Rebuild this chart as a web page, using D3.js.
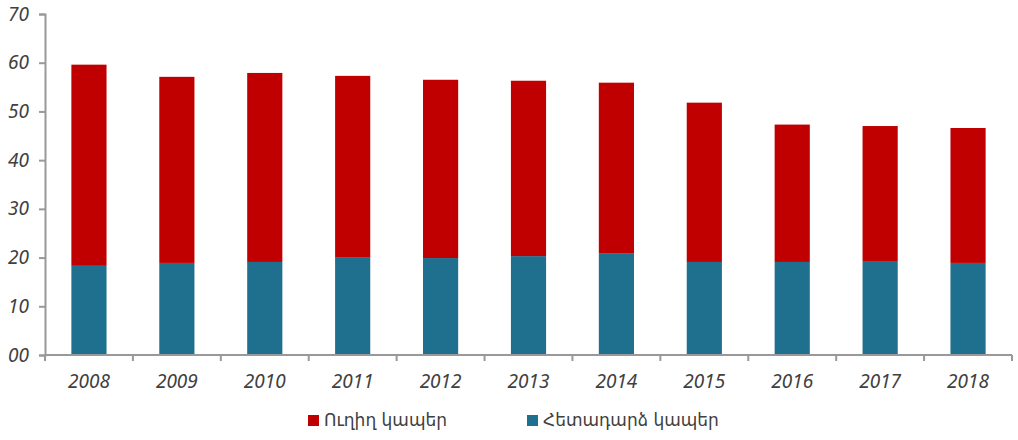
<!DOCTYPE html>
<html>
<head>
<meta charset="utf-8">
<script src="https://cdn.jsdelivr.net/npm/d3@7"></script>
<style>
  body { margin: 0; background: #fff; }
  .tick text { font-family: "Noto Sans", "DejaVu Sans", sans-serif; font-style: italic; fill: #404040; }
  .legend text { font-family: "DejaVu Sans", "Noto Sans", sans-serif; fill: #404040; }
</style>
</head>
<body>
<script>
// years along the x axis
var years = ['2008', '2009', '2010', '2011', '2012', '2013', '2014', '2015', '2016', '2017', '2018'];
// bottom series (blue) - Հետադարձ կապեր
var backward = [18.3, 18.9, 19.1, 20.1, 19.9, 20.3, 20.8, 19.1, 19.1, 19.3, 18.9];
// top series (red) - Ուղիղ կապեր
var direct = [41.3, 38.2, 38.8, 37.2, 36.6, 36.0, 35.1, 32.7, 28.2, 27.7, 27.7];
var yTicks = [0, 10, 20, 30, 40, 50, 60, 70];
var seriesNames = ['Ուղիղ կապեր', 'Հետադարձ կապեր'];
var colors = ['#c00000', '#1f6f8f'];

var width = 1018;
var height = 440;
var plotLeft = 45, plotRight = 1012, plotTop = 14, plotBottom = 355;

var rows = years.map(function (y, i) {
  return {year: y, backward: backward[i], direct: direct[i]};
});
var stack = d3.stack().keys(['backward', 'direct'])(rows);

var x = d3.scaleBand()
          .domain(years)
          .range([plotLeft, plotRight])
          .paddingInner(0.6)
          .paddingOuter(0.3);
var y = d3.scaleLinear()
          .domain([0, 70])
          .range([plotBottom, plotTop]);

var svg = d3.select('body')
            .append('svg')
            .attr('width', width)
            .attr('height', height);

// bars
svg.selectAll('.series')
   .data(stack)
   .enter()
   .append('g')
     .attr('fill', function (d) { return d.key === 'backward' ? colors[1] : colors[0]; })
   .selectAll('rect')
   .data(function (d) { return d; })
   .enter()
   .append('rect')
     .attr('x', function (d) { return x(d.data.year); })
     .attr('width', x.bandwidth())
     .attr('y', function (d) { return y(d[1]); })
     .attr('height', function (d) { return y(d[0]) - y(d[1]); });

// y axis
var yAxis = d3.axisLeft(y)
              .tickValues(yTicks)
              .tickSize(6)
              .tickPadding(10)
              .tickFormat(function (d) { return d === 0 ? '00' : d; });
var gy = svg.append('g')
            .attr('transform', 'translate(' + plotLeft + ',0)')
            .call(yAxis);
gy.selectAll('text').style('font-size', '19px');
gy.select('.domain').attr('stroke', '#999').attr('stroke-width', 2);
gy.selectAll('.tick line').attr('stroke', '#999').attr('stroke-width', 2);

// x axis line with ticks between categories
var step = (plotRight - plotLeft) / years.length;
var gx = svg.append('g').attr('class', 'xaxis');
gx.append('line')
  .attr('x1', plotLeft).attr('x2', plotRight)
  .attr('y1', plotBottom).attr('y2', plotBottom)
  .attr('stroke', '#999').attr('stroke-width', 2);
gx.selectAll('.sep')
  .data(d3.range(years.length + 1))
  .enter()
  .append('line')
    .attr('class', 'sep')
    .attr('x1', function (i) { return plotLeft + i * step; })
    .attr('x2', function (i) { return plotLeft + i * step; })
    .attr('y1', plotBottom).attr('y2', plotBottom + 6)
    .attr('stroke', '#999').attr('stroke-width', 2);
gx.selectAll('.tick')
  .data(years)
  .enter()
  .append('g')
    .attr('class', 'tick')
  .append('text')
    .attr('x', function (d) { return x(d) + x.bandwidth() / 2; })
    .attr('y', plotBottom + 33)
    .attr('text-anchor', 'middle')
    .style('font-size', '19px')
    .text(function (d) { return d; });

// legend
var legendX = [308, 527];
var legend = svg.append('g').attr('class', 'legend');
seriesNames.forEach(function (name, i) {
  legend.append('rect')
        .attr('x', legendX[i]).attr('y', 415)
        .attr('width', 11).attr('height', 11)
        .attr('fill', colors[i]);
  legend.append('text')
        .attr('x', legendX[i] + 16).attr('y', 426)
        .style('font-size', '17px')
        .text(name);
});
</script>
</body>
</html>
